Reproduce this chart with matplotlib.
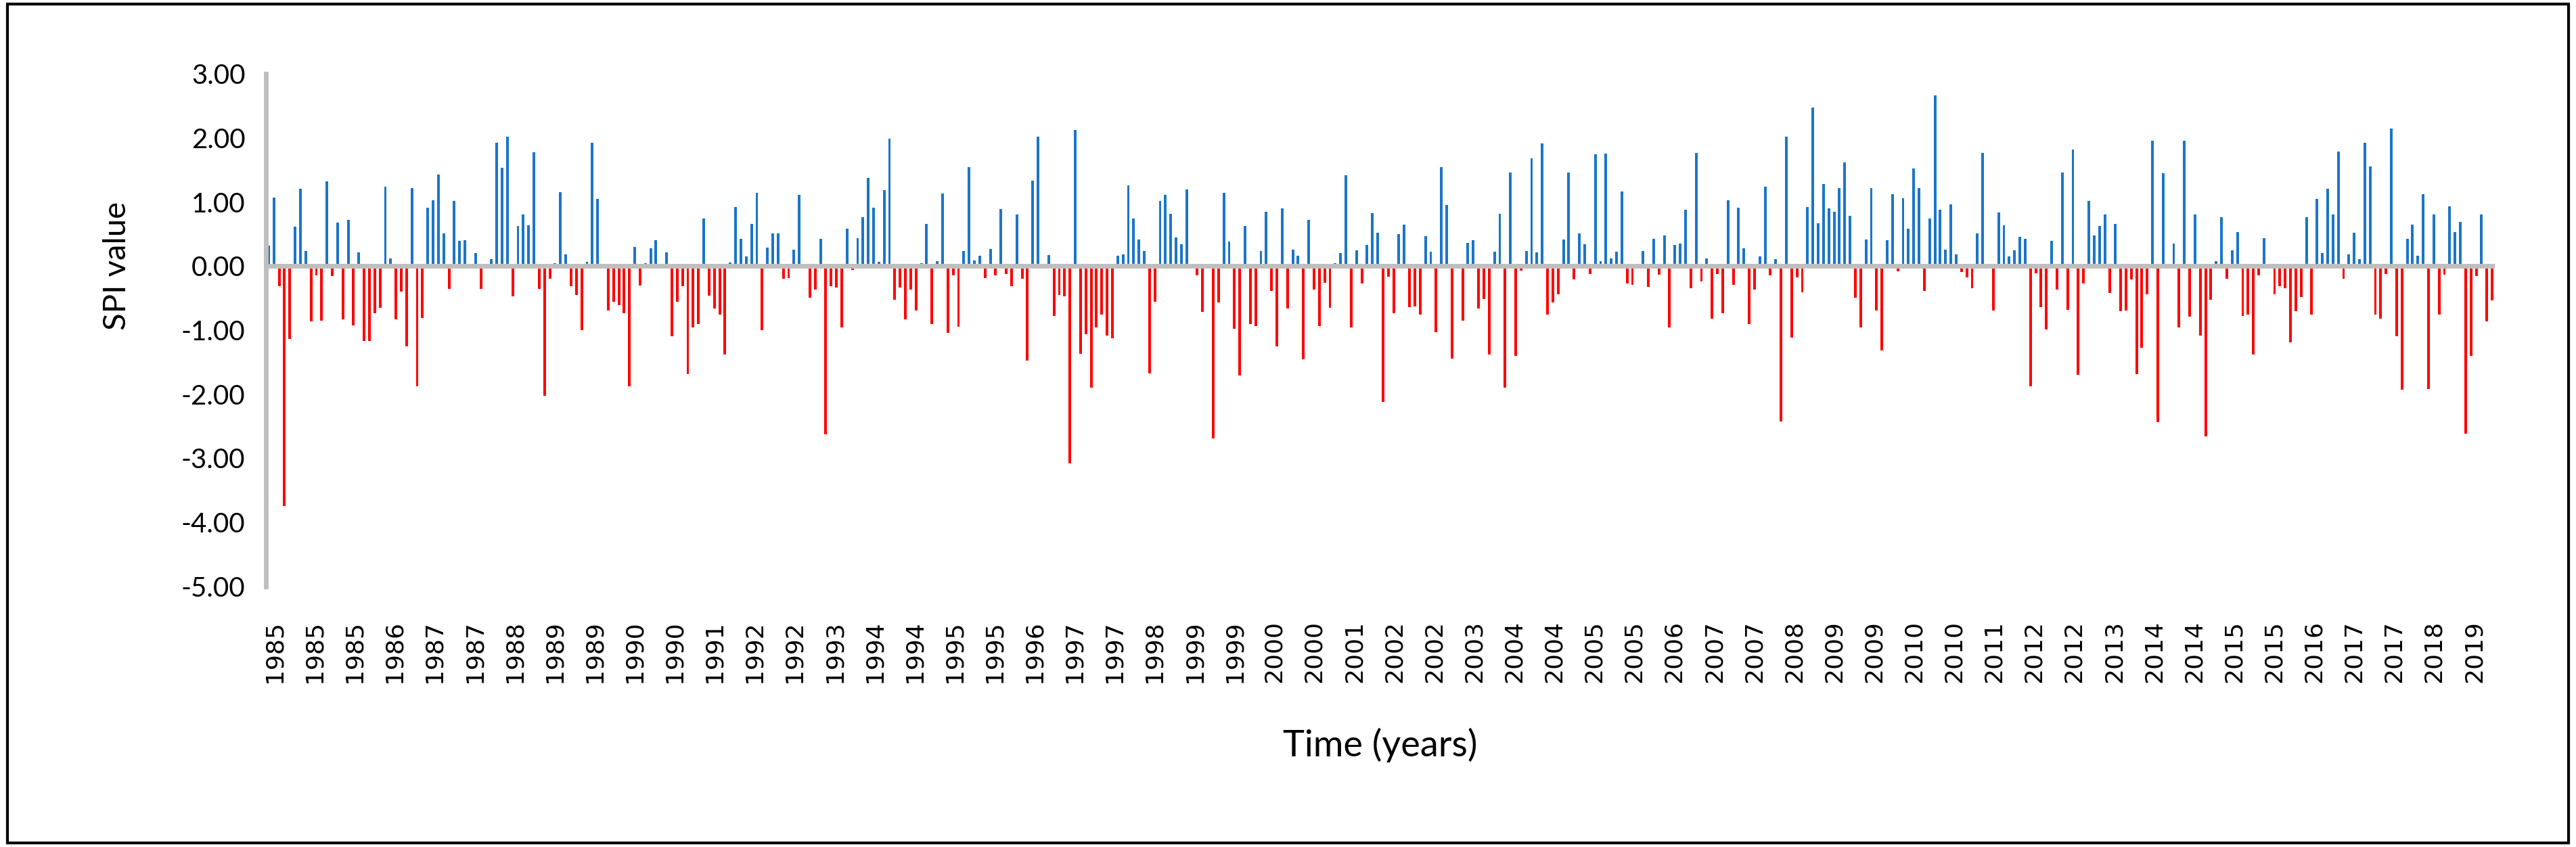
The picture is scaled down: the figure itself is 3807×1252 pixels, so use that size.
import numpy as np
import matplotlib
matplotlib.use("Agg")
import matplotlib.pyplot as plt
from matplotlib.patches import Rectangle

# monthly SPI values (12 per row)
spi = [
    0.32, 1.07, -0.31, -3.74, -1.14, 0.62, 1.21, 0.24, -0.86, -0.14, -0.85, 1.32,
    -0.16, 0.68, -0.83, 0.72, -0.93, 0.21, -1.17, -1.17, -0.74, -0.65, 1.24, 0.12,
    -0.83, -0.40, -1.25, 1.22, -1.88, -0.81, 0.91, 1.03, 1.43, 0.51, -0.36, 1.02,
    0.39, 0.40, 0.00, 0.20, -0.36, 0.00, 0.11, 1.92, 1.53, 2.02, -0.47, 0.63,
    0.80, 0.64, 1.78, -0.36, -2.02, -0.20, 0.05, 1.15, 0.18, -0.31, -0.45, -1.00,
    0.07, 1.92, 1.05, 0.00, -0.69, -0.56, -0.61, -0.74, -1.88, 0.30, -0.30, 0.05,
    0.28, 0.40, 0.00, 0.21, -1.10, -0.56, -0.31, -1.69, -0.96, -0.90, 0.74, -0.46,
    -0.66, -0.76, -1.38, 0.06, 0.92, 0.42, 0.15, 0.66, 1.14, -1.00, 0.29, 0.51,
    0.51, -0.20, -0.19, 0.26, 1.11, 0.00, -0.49, -0.37, 0.42, -2.63, -0.31, -0.33,
    -0.96, 0.58, -0.06, 0.44, 0.76, 1.37, 0.91, 0.07, 1.18, 1.99, -0.52, -0.33,
    -0.83, -0.37, -0.69, 0.05, 0.66, -0.90, 0.08, 1.13, -1.04, -0.15, -0.95, 0.24,
    1.54, 0.09, 0.16, -0.19, 0.27, -0.15, 0.89, -0.12, -0.31, 0.81, -0.20, -1.48,
    1.33, 2.02, 0.00, 0.17, -0.78, -0.45, -0.47, -3.08, 2.12, -1.37, -1.06, -1.90,
    -0.96, -0.76, -1.08, -1.13, 0.16, 0.18, 1.26, 0.74, 0.41, 0.23, -1.68, -0.56,
    1.02, 1.11, 0.82, 0.45, 0.34, 1.19, 0.00, -0.15, -0.72, 0.00, -2.69, -0.57,
    1.14, 0.38, -0.98, -1.71, 0.63, -0.90, -0.94, 0.23, 0.85, -0.39, -1.25, 0.90,
    -0.66, 0.26, 0.16, -1.45, 0.72, -0.37, -0.94, -0.26, -0.65, 0.05, 0.20, 1.42,
    -0.96, 0.25, -0.27, 0.33, 0.83, 0.52, -2.12, -0.17, -0.74, 0.50, 0.65, -0.64,
    -0.63, -0.76, 0.47, 0.22, -1.03, 1.54, 0.95, -1.44, 0.00, -0.85, 0.36, 0.40,
    -0.66, -0.51, -1.38, 0.22, 0.82, -1.90, 1.46, -1.40, -0.07, 0.24, 1.68, 0.21,
    1.91, -0.76, -0.57, -0.44, 0.41, 1.46, -0.21, 0.51, 0.34, -0.12, 1.74, 0.08,
    1.75, 0.12, 0.22, 1.16, -0.27, -0.29, 0.00, 0.23, -0.32, 0.43, -0.13, 0.48,
    -0.96, 0.33, 0.35, 0.88, -0.35, 1.76, -0.24, 0.12, -0.82, -0.12, -0.74, 1.03,
    -0.29, 0.91, 0.28, -0.90, -0.37, 0.15, 1.24, -0.15, 0.11, -2.42, 2.02, -1.12,
    -0.18, -0.41, 0.92, 2.47, 0.67, 1.28, 0.90, 0.85, 1.22, 1.62, 0.78, -0.49,
    -0.96, 0.41, 1.22, -0.69, -1.32, 0.40, 1.12, -0.08, 1.06, 0.58, 1.52, 1.22,
    -0.39, 0.74, 2.66, 0.88, 0.26, 0.96, 0.18, -0.09, -0.18, -0.35, 0.51, 1.77,
    0.00, -0.69, 0.84, 0.64, 0.15, 0.25, 0.46, 0.43, -1.88, -0.11, -0.64, -0.99,
    0.39, -0.37, 1.46, -0.68, 1.82, -1.70, -0.27, 1.02, 0.48, 0.63, 0.80, -0.42,
    0.66, -0.70, -0.69, -0.21, -1.69, -1.27, -0.44, 1.95, -2.44, 1.45, 0.00, 0.35,
    -0.96, 1.96, -0.79, 0.80, -1.08, -2.66, -0.52, 0.08, 0.76, -0.20, 0.25, 0.53,
    -0.78, -0.76, -1.38, -0.14, 0.44, 0.00, -0.44, -0.31, -0.35, -1.19, -0.70, -0.48,
    0.76, -0.76, 1.05, 0.20, 1.21, 0.81, 1.79, -0.20, 0.18, 0.52, 0.11, 1.92,
    1.55, -0.76, -0.82, -0.12, 2.15, -1.10, -1.93, 0.43, 0.65, 0.16, 1.12, -1.92,
    0.81, -0.76, -0.13, 0.93, 0.53, 0.69, -2.61, -1.40, -0.16, 0.81, -0.86, -0.54,
]

year_labels = [
    "1985", "1985", "1985", "1986", "1987", "1987", "1988", "1989", "1989", "1990",
    "1990", "1991", "1992", "1992", "1993", "1994", "1994", "1995", "1995", "1996",
    "1997", "1997", "1998", "1999", "1999", "2000", "2000", "2001", "2002", "2002",
    "2003", "2004", "2004", "2005", "2005", "2006", "2007", "2007", "2008", "2009",
    "2009", "2010", "2010", "2011", "2012", "2012", "2013", "2014", "2014", "2015",
    "2015", "2016", "2017", "2017", "2018", "2019",
]
y_ticks = [3, 2, 1, 0, -1, -2, -3, -4, -5]

BLUE = "#1A75C9"
RED = "#FF0000"
GREY = "#BFBFBF"

plt.rcParams.update({
    "font.family": ["Lato", "DejaVu Sans"],
    "font.size": 29,
})

fig = plt.figure(figsize=(38.07, 12.52), dpi=100)
ax = fig.add_axes([393/3807, 1-867/1252, (3687-393)/3807, (867-109)/1252])

vals = np.array(spi)
xpos = np.arange(len(vals))
cols = np.where(vals >= 0, BLUE, RED)
ax.bar(xpos, vals, width=0.5, color=cols, zorder=2)
ax.axhline(0, color=GREY, lw=5, zorder=3)

ax.set_xlim(-0.5, len(vals) - 0.5)
ax.set_ylim(-5, 3)
ax.set_yticks(y_ticks)
ax.set_yticklabels([f"{v:.2f}" for v in y_ticks])

# labels are spread evenly along the category axis
tick_pos = np.linspace(1.1, 415.6, len(year_labels))
ax.set_xticks(tick_pos)
ax.set_xticklabels(year_labels, rotation=90, family="DejaVu Sans", fontsize=26)
ax.tick_params(axis="both", length=0)
ax.tick_params(axis="y", pad=22)
ax.tick_params(axis="x", pad=36)

for s in ("top", "right", "bottom"):
    ax.spines[s].set_visible(False)
ax.spines["left"].set_color(GREY)
ax.spines["left"].set_linewidth(5)

ax.set_ylabel("SPI value", fontsize=34)
ax.yaxis.set_label_coords(-0.0604, 0.625)
ax.set_xlabel("Time (years)", fontsize=39)
ax.xaxis.set_label_coords(0.5, -0.276)

fig.patches.append(Rectangle((0.003, 0.005), 0.994, 0.99, transform=fig.transFigure,
                             fill=False, edgecolor="black", lw=3))

fig.savefig("out.png", dpi=100)
